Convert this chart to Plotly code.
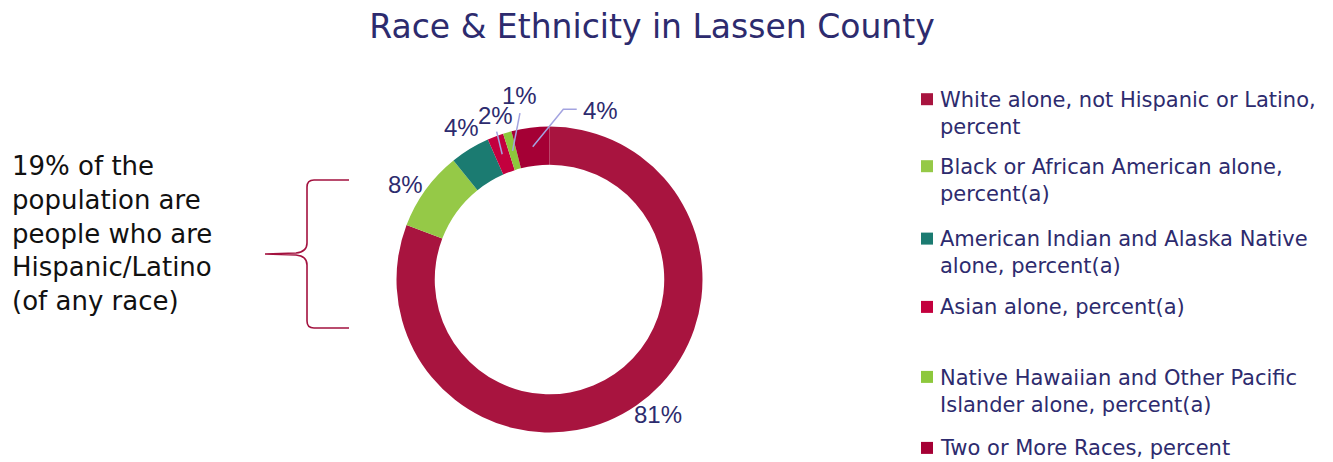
import math
import plotly.graph_objects as go

# ---------------- data ----------------
categories = [
    "White alone, not Hispanic or Latino, percent",
    "Black or African American alone, percent(a)",
    "American Indian and Alaska Native alone, percent(a)",
    "Asian alone, percent(a)",
    "Native Hawaiian and Other Pacific Islander alone, percent(a)",
    "Two or More Races, percent",
]
legend_labels = [
    "White alone, not Hispanic or Latino,<br>percent",
    "Black or African American alone,<br>percent(a)",
    "American Indian and Alaska Native<br>alone, percent(a)",
    "Asian alone, percent(a)",
    "Native Hawaiian and Other Pacific<br>Islander alone, percent(a)",
    "Two or More Races, percent",
]
values = [80.8, 8.4, 4.2, 1.7, 0.9, 4.0]
title_text = "Race & Ethnicity in Lassen County"
side_note = "19% of the<br>population are<br>people who are<br>Hispanic/Latino<br>(of any race)"

# ---------------- style ----------------
W, H = 1333, 462
colors = ["#A8143F", "#95C947", "#1B7B71", "#C3003E", "#8DC83C", "#A50035"]
navy = "#2D2B6E"
leader_color = "#A3A3E0"
cx, cy, R, hole = 549.5, 279.5, 153.0, 0.75

# label offsets (pixels) relative to the slice's ring-middle point
label_offsets = [(32.7, 24.8), (-35.3, -15.9), (-18.0, -37.2), (-6.2, -38.4), (7.4, -55.0), (67.3, -35.8)]
# leader lines: list of offset points from the tip (None = no leader)
leaders = [None, None, None, [(-5.5, -22.7)], [(7.4, -37.7)], [(30.6, -37.5), (44.0, -37.5)]]

legend_first_line = [99.7, 166.7, 239.1, 307.4, 377.4, 448.4]
legend_font = 21
legend_lh = 1.3 * legend_font


def px(x):
    return x / W


def py(y):
    return 1 - y / H


fig = go.Figure()
fig.add_trace(go.Pie(
    labels=categories,
    values=values,
    hole=hole,
    sort=False,
    direction="clockwise",
    rotation=0,
    textinfo="none",
    hoverinfo="label+percent",
    marker=dict(colors=colors, line=dict(width=0)),
    domain=dict(x=[px(cx - R), px(cx + R)], y=[py(cy + R), py(cy - R)]),
    showlegend=False,
))

annotations = []
shapes = []

total = sum(values)
cum = 0.0
r_mid = R * (1 + hole) / 2
for i, v in enumerate(values):
    mid = (cum + v / 2) / total * 2 * math.pi
    cum += v
    tx = cx + r_mid * math.sin(mid)
    ty = cy - r_mid * math.cos(mid)
    ox, oy = label_offsets[i]
    annotations.append(dict(
        x=px(tx + ox), y=py(ty + oy), xref="paper", yref="paper",
        text=f"{round(v / total * 100)}%", showarrow=False,
        xanchor="center", yanchor="middle",
        font=dict(family="Liberation Sans, Arial", size=24, color=navy),
    ))
    if leaders[i]:
        pts = [(tx, ty)] + [(tx + a, ty + b) for a, b in leaders[i]]
        path = "M " + " L ".join(f"{px(a):.5f},{py(b):.5f}" for a, b in pts)
        shapes.append(dict(type="path", path=path, xref="paper", yref="paper",
                           line=dict(color=leader_color, width=1.5)))

# custom legend
for i, lab in enumerate(legend_labels):
    n = lab.count("<br>") + 1
    y1 = legend_first_line[i]
    yc = y1 + (n - 1) * legend_lh / 2
    annotations.append(dict(
        x=px(938), y=py(yc), xref="paper", yref="paper", text=lab,
        showarrow=False, xanchor="left", yanchor="middle", align="left",
        font=dict(family="DejaVu Sans", size=legend_font, color=navy),
    ))
    shapes.append(dict(type="rect", xref="paper", yref="paper",
                       x0=px(921), x1=px(933), y0=py(y1 - 6.5), y1=py(y1 + 5.5),
                       fillcolor=colors[i], line=dict(width=0)))

# side note
annotations.append(dict(
    x=px(10), y=py(234), xref="paper", yref="paper", text=side_note,
    showarrow=False, xanchor="left", yanchor="middle", align="left",
    font=dict(family="DejaVu Sans", size=26, color="#111111"),
))

# curly brace
brace_pts = "M {a} L {b} Q {c} {d} L {e} Q {f} {g} L {h} L {i} Q {j} {k} L {l} Q {m} {n} L {o}"
def P(x, y):
    return f"{px(x):.5f},{py(y):.5f}"
brace = brace_pts.format(
    a=P(349, 180), b=P(314, 180), c=P(307, 180), d=P(307, 187),
    e=P(307, 243), f=P(307, 252), g=P(296, 253), h=P(265, 254),
    i=P(296, 255), j=P(307, 256), k=P(307, 265), l=P(307, 321),
    m=P(307, 328), n=P(314, 328), o=P(349, 328))
shapes.append(dict(type="path", path=brace, xref="paper", yref="paper",
                   line=dict(color="#A3123F", width=1.6)))

fig.update_layout(
    width=W, height=H, autosize=False,
    margin=dict(l=0, r=0, t=0, b=0),
    paper_bgcolor="white", plot_bgcolor="white",
    title=dict(text=title_text, x=px(652), xanchor="center", y=py(26), yanchor="middle",
               xref="paper", yref="container",
               font=dict(family="DejaVu Sans", size=33, color=navy)),
    annotations=annotations,
    shapes=shapes,
)

fig.write_html("out.html")
